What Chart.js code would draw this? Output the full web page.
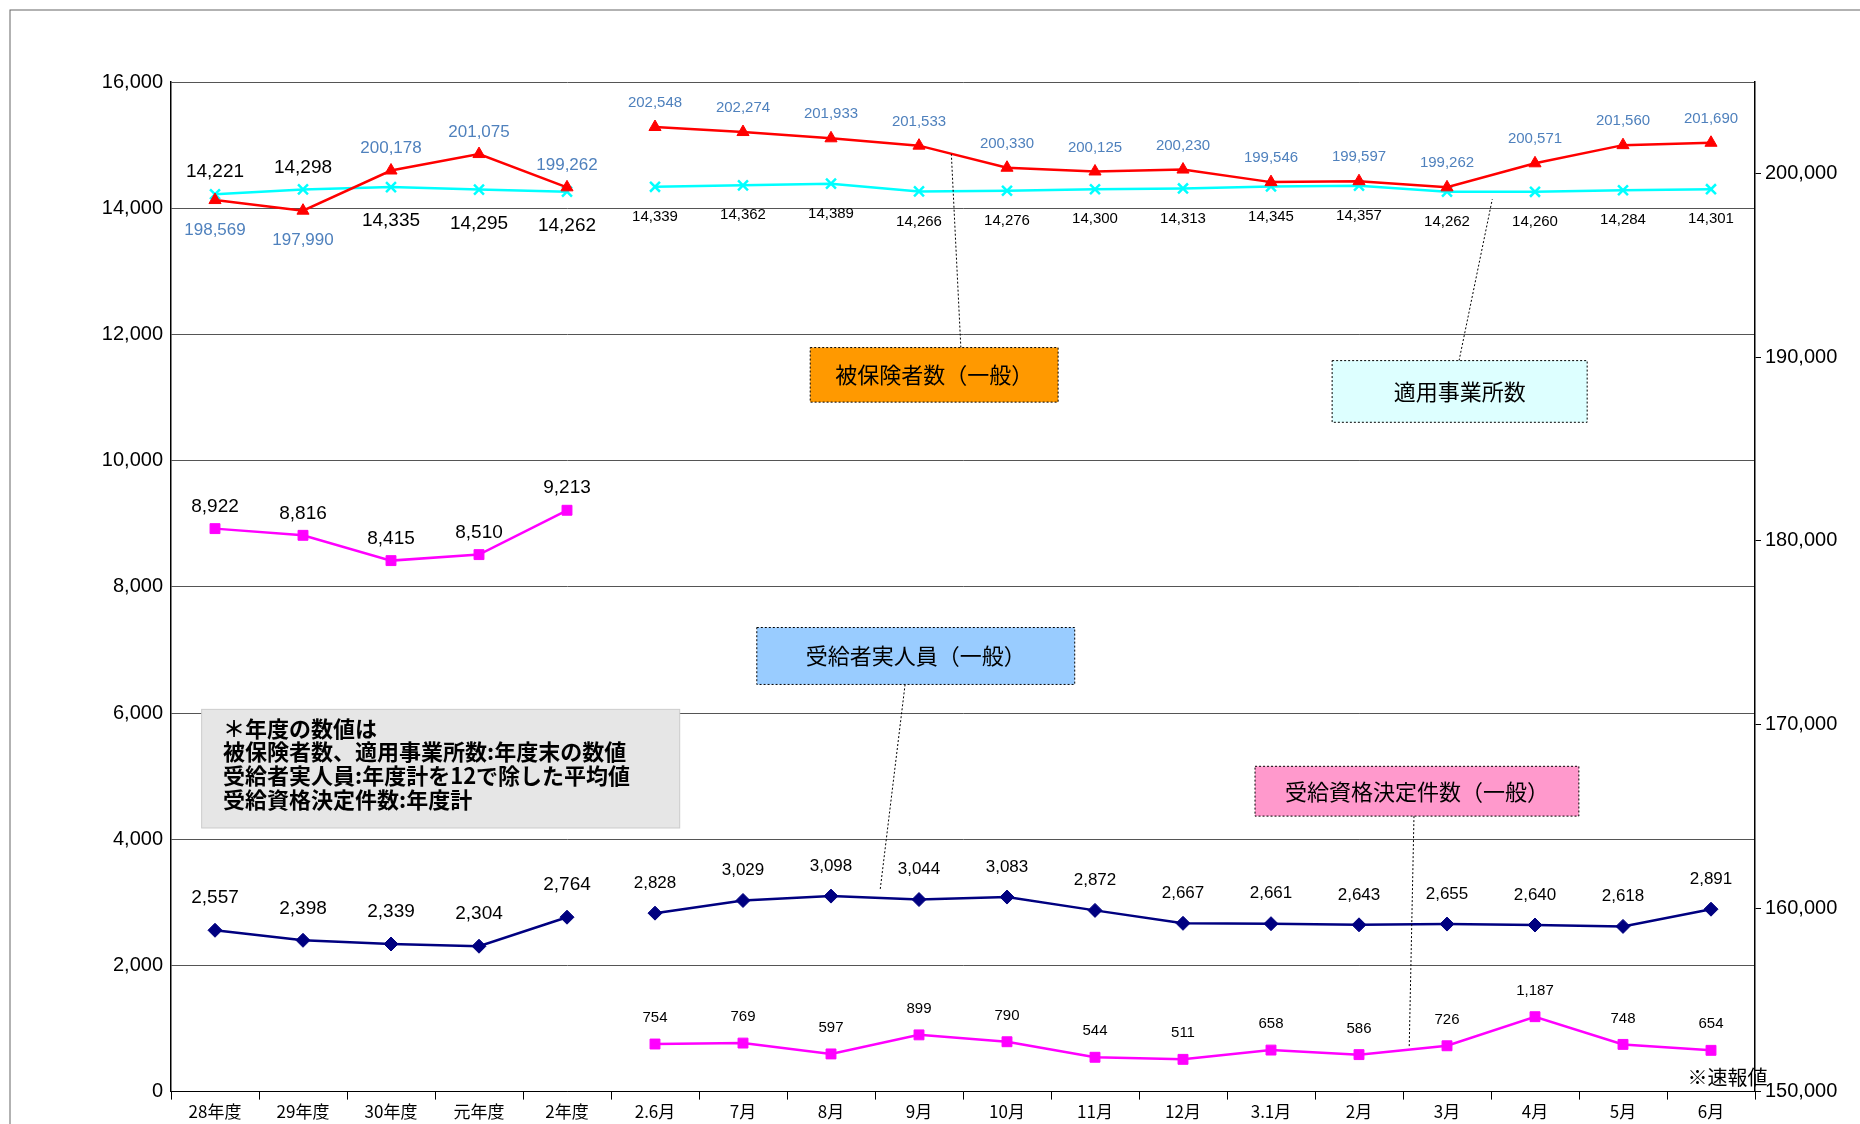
<!DOCTYPE html>
<html><head><meta charset="utf-8">
<script src="https://cdn.jsdelivr.net/npm/chart.js@4/dist/chart.umd.min.js"></script>
<style>body{margin:0;background:#fff}canvas{display:block}</style>
</head><body>
<canvas id="c" width="1860" height="1124"></canvas>
<script>
const labels = ['28年度','29年度','30年度','元年度','2年度','2.6月','7月','8月','9月','10月','11月','12月','3.1月','2月','3月','4月','5月','6月'];
// 被保険者数（一般） right axis
const insuredYear = [198569,197990,200178,201075,199262];
const insuredMonth = [202548,202274,201933,201533,200330,200125,200230,199546,199597,199262,200571,201560,201690];
// 適用事業所数
const officeYear = [14221,14298,14335,14295,14262];
const officeMonth = [14339,14362,14389,14266,14276,14300,14313,14345,14357,14262,14260,14284,14301];
// 受給者実人員（一般）
const recvYear = [2557,2398,2339,2304,2764];
const recvMonth = [2828,3029,3098,3044,3083,2872,2667,2661,2643,2655,2640,2618,2891];
// 受給資格決定件数（一般）
const decYear = [8922,8816,8415,8510,9213];
const decMonth = [754,769,597,899,790,544,511,658,586,726,1187,748,654];

const yr = a => a.concat(Array(13).fill(null));
const mo = a => Array(5).fill(null).concat(a);
const S = 1860/1568;

function ds(data, color, shape, axis, lab) {
  return {data, borderColor: color, backgroundColor: color, borderWidth: 2.5, pointStyle: shape,
    pointRadius: shape === 'crossRot' ? 7 : 7, pointBorderWidth: shape === 'crossRot' ? 2.5 : 1,
    yAxisID: axis, spanGaps: false, lab};
}
const datasets = [
  ds(yr(insuredYear),'#FF0000','triangle','y2',{color:'#4F81BD',size:17,off:i=>i<2?30:-22}),
  ds(mo(insuredMonth),'#FF0000','triangle','y2',{color:'#4F81BD',size:15,off:()=>-24}),
  ds(yr(officeYear),'#00FFFF','crossRot','y',{color:'#000',size:19,off:i=>i<2?-22:34}),
  ds(mo(officeMonth),'#00FFFF','crossRot','y',{color:'#000',size:15,off:()=>30}),
  ds(yr(decYear),'#FF00FF','rect','y',{color:'#000',size:19,off:()=>-22}),
  ds(mo(decMonth),'#FF00FF','rect','y',{color:'#000',size:15,off:()=>-26}),
  ds(yr(recvYear),'#000080','rectRot','y',{color:'#000',size:19,off:i=>-32}),
  ds(mo(recvMonth),'#000080','rectRot','y',{color:'#000',size:17,off:()=>-30}),
];

const P = (x,y)=>[x*S,y*S];
const boxes = [
  {x:683,y:293,w:209,h:46,fill:'#FF9900',text:'被保険者数（一般）',lead:[810,293,802,130]},
  {x:1123,y:304,w:215,h:52,fill:'#DDFFFF',text:'適用事業所数',lead:[1230,304,1258,168]},
  {x:638,y:529,w:268,h:48,fill:'#99CCFF',text:'受給者実人員（一般）',lead:[763,577,742,750]},
  {x:1058,y:646,w:273,h:42,fill:'#FF99CC',text:'受給資格決定件数（一般）',lead:[1192,688,1188,882]},
];

const deco = {
  id:'deco',
  beforeDraw(c){
    const g=c.ctx; g.save(); g.strokeStyle='#666'; g.lineWidth=1;
    g.strokeRect(10,10,1860,1124); g.restore();
  },
  afterDatasetsDraw(c){
    const g=c.ctx; g.save();
    g.textAlign='center'; g.textBaseline='middle';
    c.data.datasets.forEach((d,di)=>{
      const m=c.getDatasetMeta(di);
      let k=0;
      d.data.forEach((v,i)=>{
        if(v==null) return;
        const p=m.data[i];
        g.fillStyle=d.lab.color; g.font=d.lab.size+'px "Liberation Sans", Arial';
        g.fillText(v.toLocaleString('en-US'),p.x,p.y+d.lab.off(k));
        k++;
      });
    });
    // annotation boxes
    boxes.forEach(b=>{
      const [x,y]=P(b.x,b.y), w=b.w*S, h=b.h*S;
      g.setLineDash([2,2]); g.strokeStyle='#000'; g.lineWidth=1;
      g.beginPath(); const [a1,b1]=P(b.lead[0],b.lead[1]),[a2,b2]=P(b.lead[2],b.lead[3]);
      g.moveTo(a1,b1); g.lineTo(a2,b2); g.stroke();
      g.fillStyle=b.fill; g.fillRect(x,y,w,h); g.strokeRect(x,y,w,h);
      g.setLineDash([]);
      g.fillStyle='#000'; g.font='22px "Noto Sans CJK JP"';
      g.fillText(b.text,x+w/2,y+h/2);
    });
    // note box
    const [nx,ny]=P(170,598);
    g.fillStyle='#E6E6E6'; g.fillRect(nx,ny,403*S,100*S);
    g.strokeStyle='#ccc'; g.strokeRect(nx,ny,403*S,100*S);
    g.fillStyle='#000'; g.textAlign='left'; g.font='bold 22px "Noto Sans CJK JP"';
    ['＊年度の数値は','被保険者数、適用事業所数:年度末の数値','受給者実人員:年度計を12で除した平均値','受給資格決定件数:年度計']
      .forEach((t,i)=>g.fillText(t,nx+18*S,ny+(16+i*20)*S));
    g.font='20px "Noto Sans CJK JP"'; g.textAlign='right';
    const [rx,ry]=P(1490,908); g.fillText('※速報値',rx,ry);
    g.restore();
  }
};

new Chart(document.getElementById('c'),{
  type:'line',
  data:{labels,datasets},
  options:{
    responsive:false, animation:false, devicePixelRatio:1,
    layout:{padding:{top:82,left:20,right:8,bottom:0}},
    plugins:{legend:{display:false},tooltip:{enabled:false}},
    scales:{
      x:{offset:true,grid:{offset:true,drawOnChartArea:false,color:'#000',tickLength:8},
        border:{color:'#000'},
        ticks:{color:'#000',font:{size:17,family:'"Noto Sans CJK JP"'},maxRotation:0,autoSkip:false,padding:2}},
      y:{min:0,max:16000,afterFit:s=>{s.width=151;},
        border:{color:'#000',width:1.5},
        grid:{color:'#555',lineWidth:1,drawTicks:false},
        ticks:{stepSize:2000,color:'#000',padding:8,font:{size:20,family:'"Liberation Sans", Arial'},callback:v=>v.toLocaleString('en-US')}},
      y2:{position:'right',min:150000,max:205000,afterFit:s=>{s.width=97;},
        border:{color:'#000',width:1.5},
        grid:{drawOnChartArea:false,color:'#000',tickLength:6},
        afterBuildTicks:s=>{s.ticks=[150000,160000,170000,180000,190000,200000].map(v=>({value:v}));},
        ticks:{color:'#000',padding:4,font:{size:20,family:'"Liberation Sans", Arial'},callback:v=>v.toLocaleString('en-US')}}
    }
  },
  plugins:[deco]
});
</script>
</body></html>
